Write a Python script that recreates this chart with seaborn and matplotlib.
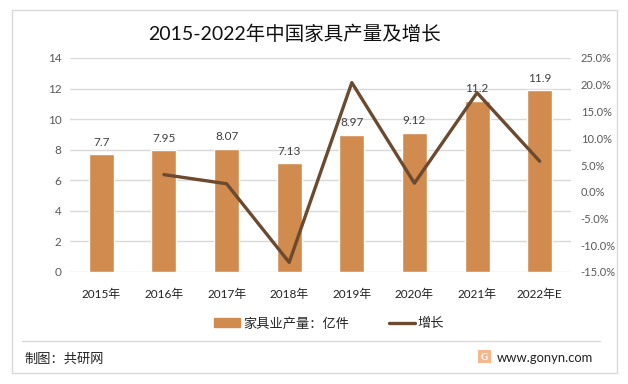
import matplotlib
matplotlib.use("Agg")
import matplotlib.pyplot as plt
from matplotlib.lines import Line2D
from matplotlib.patches import Patch, Rectangle
import pandas as pd
import seaborn as sns

# values
years = ['2015年', '2016年', '2017年', '2018年', '2019年', '2020年', '2021年', '2022年E']
output = [7.7, 7.95, 8.07, 7.13, 8.97, 9.12, 11.2, 11.9]
output_labels = ['7.7', '7.95', '8.07', '7.13', '8.97', '9.12', '11.2', '11.9']
growth = [None, 3.2, 1.5, -13.2, 20.4, 1.6, 18.5, 5.7]
left_ticks = [0, 2, 4, 6, 8, 10, 12, 14]
right_ticks = [-15, -10, -5, 0, 5, 10, 15, 20, 25]

sns.set_theme(style='white')
plt.rcParams['font.family'] = ['Lato', 'Noto Sans CJK SC', 'DejaVu Sans']
plt.rcParams['axes.unicode_minus'] = False

W, H = 628, 384
fig = plt.figure(figsize=(W / 100, H / 100), dpi=100, facecolor='white')
ax = fig.add_axes([70 / W, 1 - 272 / H, 501 / W, 214 / H])

df = pd.DataFrame({'year': years, 'output': output, 'growth': growth})

# bars
sns.barplot(data=df, x='year', y='output', color='#D28B4F', saturation=1, width=0.4, ax=ax)
ax.set_xlim(-0.5, 7.5)
ax.set_ylim(0, 14)
ax.set_yticks(left_ticks)
ax.set_xlabel('')
ax.set_ylabel('')
ax.grid(axis='y', color='#D9D9D9', linewidth=1)
ax.set_axisbelow(True)
ax.tick_params(axis='x', length=0, labelsize=8.5, labelcolor='#222222', pad=12)
ax.tick_params(axis='y', length=0, labelsize=8.5, labelcolor='#595959', pad=6)
sns.despine(ax=ax, left=True, bottom=True)

for i, v in enumerate(output):
    ax.text(i, v + 0.42, output_labels[i], ha='center', va='bottom', fontsize=8.5, color='#404040', zorder=5)

# growth line on right axis
ax2 = ax.twinx()
sns.lineplot(data=df, x='year', y='growth', color='#6B4A2F', linewidth=2.4, ax=ax2, sort=False)
ax2.set_ylim(-15, 25)
ax2.set_yticks(right_ticks)
ax2.set_yticklabels([f'{t:.1f}%' for t in right_ticks])
ax2.set_ylabel('')
ax2.set_xlabel('')
ax2.grid(False)
ax2.tick_params(axis='y', length=0, labelsize=8, labelcolor='#595959', pad=7)
sns.despine(ax=ax2, left=True, bottom=True, right=True)
ax2.set_zorder(ax.get_zorder() + 1)

fig.text(295 / W, 1 - 34 / H, '2015-2022年中国家具产量及增长', ha='center', va='center', fontsize=14, color='#111111')

handles = [Patch(color='#D28B4F'), Line2D([0], [0], color='#6B4A2F', linewidth=2.4)]
fig.legend(handles, ['家具业产量：亿件', '增长'], loc='center', bbox_to_anchor=(329 / W, 1 - 323 / H),
           ncol=2, frameon=False, fontsize=9.5, columnspacing=3, handlelength=2.0, handletextpad=0.2)

# outer frame, separator and footer
fig.add_artist(Rectangle((12 / W, 1 - 373 / H), 605 / W, 363 / H, transform=fig.transFigure,
                         fill=False, edgecolor='#D9D9D9', linewidth=1))
fig.add_artist(Line2D([22 / W, 600 / W], [1 - 341 / H, 1 - 341 / H], color='#D9D9D9', linewidth=1))
fig.text(24 / W, 1 - 359 / H, '制图：共研网', ha='left', va='center', fontsize=9.5, color='#222222')
fig.add_artist(Rectangle((478 / W, 1 - 363 / H), 13 / W, 13 / H, transform=fig.transFigure,
                         facecolor='#F7B68C', edgecolor='none'))
fig.text(484.5 / W, 1 - 357 / H, 'G', ha='center', va='center', fontsize=7, color='white', fontweight='bold')
fig.text(497 / W, 1 - 358 / H, 'www.gonyn.com', ha='left', va='center', fontsize=9.4, color='#222222')

plt.savefig('out.png', dpi=100)
